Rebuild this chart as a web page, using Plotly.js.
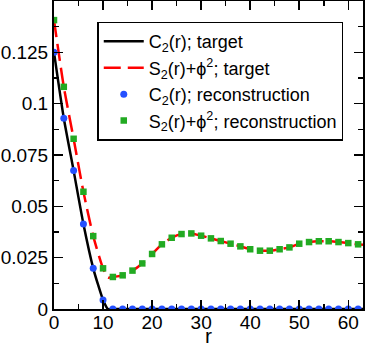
<!DOCTYPE html>
<html>
<head>
<meta charset="utf-8">
<script src="https://cdn.plot.ly/plotly-3.0.1.min.js"></script>
<style>
  html, body { margin: 0; padding: 0; background: #fff; }
  #chart { width: 365px; height: 346px; }
</style>
</head>
<body>
<div id="chart"></div>
<script>
// reconstruction points, every 2 in r
var rRecon = [0, 2, 4, 6, 8, 10, 12, 14, 16, 18, 20, 22, 24, 26, 28, 30,
  32, 34, 36, 38, 40, 42, 44, 46, 48, 50, 52, 54, 56, 58, 60, 62];
var c2Recon = [0.125, 0.0929, 0.0674, 0.0414, 0.0198, 0.0044, 0, 0, 0, 0, 0, 0, 0, 0, 0, 0,
  0, 0, 0, 0, 0, 0, 0, 0, 0, 0, 0, 0, 0, 0, 0, 0];
var s2Recon = [0.1407, 0.1082, 0.0829, 0.0571, 0.0355, 0.0198, 0.0156, 0.0164, 0.0187, 0.0222,
  0.0268, 0.0315, 0.0347, 0.0365, 0.0368, 0.0357, 0.0344, 0.0331, 0.0318, 0.0305, 0.0291,
  0.0284, 0.0284, 0.0291, 0.0300, 0.0318, 0.0326, 0.0330, 0.0330, 0.0326, 0.0321, 0.0315];

// target curves
var rC2Target = [0, 2, 4, 6, 8, 9, 10, 11, 12, 20, 30, 40, 50, 63];
var c2Target = [0.125, 0.0929, 0.0674, 0.0414, 0.0198, 0.0117, 0.0044, 0, 0, 0, 0, 0, 0, 0];
var rS2Target = [0, 2, 4, 6, 8, 10, 11, 12, 14, 16, 18, 20, 22, 24, 26, 28, 30,
  32, 34, 36, 38, 40, 42, 44, 46, 48, 50, 52, 54, 56, 58, 60, 62, 63];
var s2Target = [0.1407, 0.1082, 0.0829, 0.0571, 0.0355, 0.0198, 0.0153, 0.0156, 0.0164, 0.0187,
  0.0222, 0.0268, 0.0315, 0.0347, 0.0365, 0.0368, 0.0357, 0.0344, 0.0331, 0.0318, 0.0305,
  0.0291, 0.0284, 0.0284, 0.0291, 0.0300, 0.0318, 0.0326, 0.0330, 0.0330, 0.0326, 0.0321,
  0.0315, 0.0313];

var yTicks = [0, 0.025, 0.05, 0.075, 0.1, 0.125];
var yTickText = ["0", "0.025", "0.05", "0.075", "0.1", "0.125"];

var traces = [
  {
    x: rC2Target, y: c2Target, mode: "lines", type: "scatter",
    name: "C<sub>2</sub>(r); target",
    line: { color: "#000000", width: 2.5, shape: "spline", smoothing: 0.6 }
  },
  {
    x: rS2Target, y: s2Target, mode: "lines", type: "scatter",
    name: "S<sub>2</sub>(r)+ϕ<sup>2</sup>; target",
    line: { color: "#ff0000", width: 2.5, dash: "17px,7px", shape: "spline", smoothing: 0.6 }
  },
  {
    x: rRecon, y: c2Recon, mode: "markers", type: "scatter",
    name: "C<sub>2</sub>(r); reconstruction",
    marker: { color: "#2450ff", size: 7, symbol: "circle" }
  },
  {
    x: rRecon, y: s2Recon, mode: "markers", type: "scatter",
    name: "S<sub>2</sub>(r)+ϕ<sup>2</sup>; reconstruction",
    marker: { color: "#22aa22", size: 6.5, symbol: "square" }
  }
];

var layout = {
  width: 365,
  height: 346,
  margin: { l: 54, r: 2, t: 1, b: 37 },
  paper_bgcolor: "#ffffff",
  plot_bgcolor: "#ffffff",
  font: { family: "Liberation Sans, Arial, sans-serif", size: 18, color: "#000" },
  showlegend: true,
  legend: {
    x: 0.14, y: 0.933, xanchor: "left", yanchor: "top",
    bgcolor: "#ffffff", bordercolor: "#000", borderwidth: 1.5,
    font: { size: 18 }, tracegroupgap: 0, itemwidth: 40
  },
  xaxis: {
    range: [0, 63],
    dtick: 10, tick0: 0,
    ticks: "inside", ticklen: 9, tickwidth: 1.5, tickcolor: "#000",
    minor: { dtick: 5, ticks: "inside", ticklen: 5, tickwidth: 1.5, tickcolor: "#000" },
    showline: true, linewidth: 2, linecolor: "#000", mirror: "ticks",
    showgrid: false, zeroline: false,
    tickfont: { size: 19 }, ticklabelstandoff: -5
  },
  yaxis: {
    range: [0, 0.15],
    tickvals: yTicks, ticktext: yTickText,
    ticks: "inside", ticklen: 9, tickwidth: 1.5, tickcolor: "#000",
    minor: { dtick: 0.0125, tick0: 0, ticks: "inside", ticklen: 5, tickwidth: 1.5, tickcolor: "#000" },
    showline: true, linewidth: 2, linecolor: "#000", mirror: "ticks",
    showgrid: false, zeroline: false,
    tickfont: { size: 19 }
  },
  annotations: [{
    text: "r", xref: "paper", yref: "paper", x: 0.5, y: 0,
    xanchor: "center", yanchor: "top", yshift: -13, showarrow: false,
    font: { size: 21 }
  }]
};

Plotly.newPlot("chart", traces, layout, { displayModeBar: false, staticPlot: true });
</script>
</body>
</html>
